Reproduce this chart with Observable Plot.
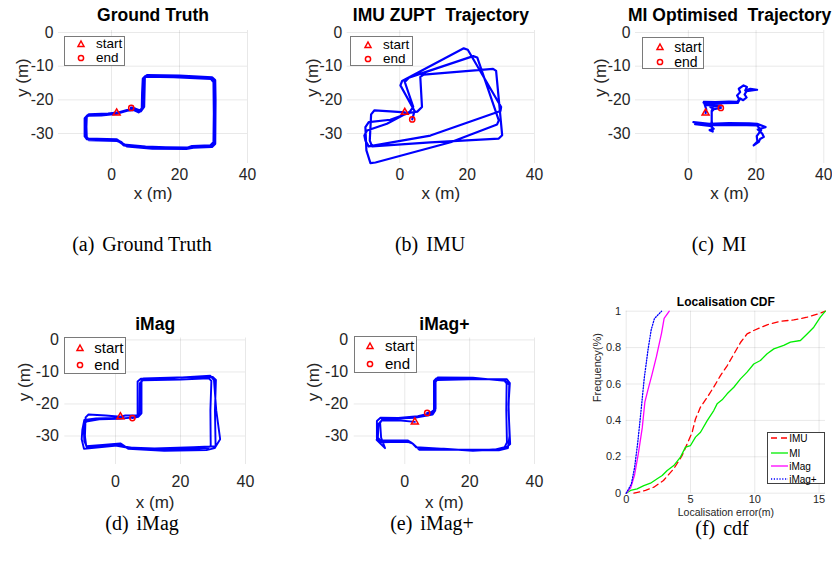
<!DOCTYPE html>
<html><head><meta charset="utf-8">
<script src="https://cdn.jsdelivr.net/npm/d3@7"></script>
<script src="https://cdn.jsdelivr.net/npm/@observablehq/plot@0.6"></script>
<style>
body{margin:0;background:#fff;}
#root{position:relative;width:832px;height:565px;overflow:hidden;font-family:"Liberation Sans",Arial,Helvetica,sans-serif;color:#262626;}
.panel{position:absolute;}
.panel svg{overflow:visible;}
.panel svg text{white-space:pre;}
.cap{position:absolute;font-family:"Liberation Serif","Times New Roman",serif;font-size:20px;color:#000;white-space:pre;transform:translate(-50%,-50%);line-height:1;}
.cap span{margin-right:8px;}
.leg{position:absolute;background:#fff;box-sizing:border-box;}
.leg .t{position:absolute;transform:translateY(-50%);color:#000;white-space:pre;line-height:0.9;}
.leg svg{position:absolute;overflow:visible;}
</style></head>
<body><div id="root"></div>
<script>
// ---------- data ----------
const xTicks = [0, 20, 40];
const yTicks = [0, -10, -20, -30];

const gtPath = [[1.5,-23.9],[-1,-24.2],[-6.7,-24.4],[-7.4,-25.1],[-7.5,-28],[-7.4,-31.1],[-6.7,-31.9],[1.7,-32.1],[2.8,-32.6],[3.6,-33.4],[10,-34],[16,-34.2],[22.3,-34.3],[23.7,-33.8],[29.1,-33.6],[30.1,-32.6],[30.2,-24],[30.1,-14.7],[29.3,-13.7],[18.3,-13.2],[10,-13],[9.3,-13.7],[9.1,-18],[9.0,-22.6],[8.0,-23.6],[6.6,-22.9],[4.6,-23.1],[2.5,-23.7],
 [1.2,-24.1],[-3,-24.5],[-7,-24.6],[-7.8,-25.5],[-7.8,-30.8],[-7.2,-31.6],[1.5,-31.8],[3.2,-33],[4.5,-33.7],[12,-34.4],[22,-34.5],[24,-34.1],[29.5,-33.9],[30.4,-33],[30.5,-20],[30.4,-14.2],[29.6,-13.4],[20,-12.9],[10.5,-12.7],[9.7,-13.4],[9.5,-22],[8.6,-23.3],[7,-22.7],[5.8,-22.4]];
const gtStart = [1.5,-23.9], gtEnd = [5.8,-22.4];

const imuPath = [[1.5,-23.7],[-2.8,-23.4],[-7.5,-23.1],[-8.5,-24.3],[-8.9,-32.1],[-8.2,-33.8],[9.1,-32.6],[29.4,-31.5],[30.4,-30.5],[28.6,-11.4],[27.7,-10.8],[7.1,-12.5],[6.1,-13.2],[6.6,-22.1],[5.2,-23.5],[2.7,-23.9],
 [-2.8,-25.9],[-9.2,-26.6],[-10.2,-28.1],[-9.9,-35.0],[-8.7,-38.8],[-7.2,-38.6],[15.1,-32.6],[28.9,-27.3],[29.4,-26.1],[23.0,-7.4],[21.8,-7.0],[2.7,-13.4],[1.5,-14.7],[4.0,-22.1],[3.0,-23.5],
 [-3.8,-27.1],[-9.7,-29.1],[-10.5,-30.6],[-10.2,-32.1],[-9.2,-33.8],[9.1,-30.6],[29.9,-23.3],[30.1,-22.1],[20.2,-5.1],[19.0,-4.7],[0.7,-14.4],[0.2,-15.7],[4.4,-23.3],[3.7,-25.8]];
const imuStart = [1.5,-23.7], imuEnd = [3.7,-25.8];

const miPath = [[5.1,-23.9],[5.3,-22.8],[4.8,-21.3],[4.6,-20.6],[8,-20.7],[12,-20.5],[14.5,-20.6],[15,-19.8],[14.4,-18.7],[15.3,-17.7],[14.9,-16.7],[16.3,-15.7],[17.3,-16.2],[16.8,-17.2],[18.3,-16.7],[20.3,-17],[17.2,-17.4],[16.6,-18.4],[17.2,-19.3],[16.2,-20.1],[15.3,-19.6],[14.6,-20.9],[10,-21],[5,-21.1],[4.5,-20.8],[5.5,-21.6],[9.8,-21.7],[6.5,-22.1],[7.2,-22.5],[6.9,-23.3],[6.9,-26],[6.8,-28],[7.5,-28.6],[6.3,-29],[7.2,-29.4],[6.9,-27.2],[1.5,-26.6],[6,-27.1],[12,-26.9],[18,-27],[20.3,-27.1],[22.8,-28.1],[20.5,-28.8],[21.8,-30],[22.3,-31],[21.2,-31.6],[20.8,-32.5],[19.3,-33.5],[20.4,-32.4],[20.2,-30.8],[21.5,-29],[20.3,-27.6],[14,-27.4],[6,-27.5],[2,-27.2],[7,-27.8],[6.9,-26],[6.9,-23.5],[7.5,-22.8],[9.6,-22.4]];
const miStart = [5.1,-23.9], miEnd = [9.6,-22.4];

const imagPath = [[1.5,-24],[-3,-23.6],[-8.3,-23.3],[-9.2,-24.2],[-9.4,-30],[-9,-33.2],[-4,-32.8],[1.5,-32.3],[3,-33.3],[7,-34],[20,-34.2],[28.5,-33.8],[29.3,-33],[29.2,-22],[29.5,-12.8],[28.7,-12],[20,-12.4],[8.4,-12.6],[7.5,-13.5],[7.4,-22.8],[6.5,-23.6],[3,-23.6],
 [0,-24.4],[-6,-24.5],[-9.6,-25],[-10.2,-28],[-10.4,-31],[-9.7,-34],[-5,-33.5],[2,-32.8],[4,-34],[15,-34.6],[28,-34.4],[30.5,-33.8],[32.2,-31],[31,-22],[30.3,-12.6],[29.2,-11.2],[18,-11.9],[7.8,-12.1],[6.8,-13],[6.8,-23.4],[5.8,-24.2],[1,-24.6],
 [-5,-24.8],[-9,-25.5],[-9.8,-27],[-9.6,-31.5],[-8.8,-33.6],[0,-33],[3.5,-33.6],[12,-33.9],[24,-33.5],[30.8,-33.2],[30.6,-22],[30.9,-12.5],[30,-11.6],[19,-11.7],[8.6,-12],[8,-12.8],[8,-22.9],[7,-24],[5.2,-24.4]];
const imagStart = [1.5,-24], imagEnd = [5.2,-24.4];

const imagPlusPath = [[3.1,-25.6],[-2,-25.1],[-7.2,-25.2],[-8.1,-26.2],[-8.3,-30.5],[-7.6,-31.3],[1,-31.4],[2.2,-32.2],[4,-33.8],[12,-34],[21,-34.6],[28,-34.2],[30.8,-33.5],[31.5,-32],[31.3,-22],[31.4,-13.6],[30.5,-12.5],[20,-12],[9.7,-12],[9,-12.8],[9,-21.8],[8.4,-22.8],[4,-23.8],[-2,-24.4],
 [-7.5,-24.3],[-8.6,-25.3],[-8.6,-30.8],[-7.6,-32],[-1,-31.8],[2,-32],[3.5,-33.5],[15,-34.2],[29,-34.5],[31.8,-33.8],[32.3,-30],[32,-20],[32.4,-13.5],[31.5,-12.3],[20,-12.3],[10,-12.5],[9.3,-13.3],[9.4,-22],[8.6,-23.3],[3,-24.3],[-4,-24.6],[-7,-24.8],
 [-7.6,-26],[-7.3,-30.5],[-6.1,-33.8],[-8.7,-31.2],[-7.8,-31.6],[0,-31.6],[2.5,-32.4],[4.5,-34.3],[14,-34.3],[26,-34.3],[30.8,-34],[32.5,-32.5],[32,-22],[32.2,-14],[31,-12.8],[21,-11.8],[10.2,-11.7],[9.5,-12.5],[9.5,-21.5],[8.2,-22.5],[6.9,-22.8]];
const imagPlusStart = [3.1,-25.6], imagPlusEnd = [6.9,-22.8];

// CDF data
const cdfXTicks = [0, 5, 10, 15];
const cdfYTicks = [0, 0.2, 0.4, 0.6, 0.8, 1];
const imuErr = [0.6,1.5,2.15,2.9,3.7,4.35,4.74,5.13,5.39,5.78,6.3,6.8,7.33,7.85,8.37,8.89,9.4,9.92,10.96,11.99,13.03,14.07,15.1,15.49];
const imuCdf = [0,0.015,0.033,0.07,0.134,0.207,0.271,0.335,0.408,0.473,0.527,0.582,0.646,0.7,0.764,0.828,0.875,0.894,0.925,0.945,0.952,0.967,0.989,1.0];
const miErr = [0,0.34,0.85,1.37,1.89,2.41,2.8,3.19,3.7,4.22,4.61,5.0,5.39,5.78,6.3,6.81,7.07,7.46,7.85,8.37,8.89,9.4,9.92,10.44,10.96,11.48,12.25,12.77,13.55,14.07,14.59,15.1,15.49];
const miCdf = [0,0.015,0.024,0.042,0.055,0.079,0.097,0.125,0.152,0.198,0.253,0.262,0.308,0.335,0.399,0.454,0.491,0.513,0.546,0.582,0.628,0.665,0.71,0.729,0.766,0.793,0.812,0.83,0.839,0.875,0.912,0.967,1.0];
const imagErr = [0,0.35,0.65,0.95,1.25,1.45,1.7,2.0,2.35,2.75,2.95,3.35];
const imagCdf = [0,0.03,0.1,0.22,0.36,0.5,0.57,0.65,0.75,0.88,0.96,1.0];
const imagPlusErr = [0,0.4,0.65,0.9,1.15,1.4,1.7,1.95,2.2,2.75];
const imagPlusCdf = [0,0.05,0.14,0.28,0.45,0.63,0.79,0.9,0.96,1.0];

const titles = ["Ground Truth", "IMU ZUPT  Trajectory", "MI Optimised  Trajectory", "iMag", "iMag+", "Localisation CDF"];
const captions = [["(a)","Ground Truth"],["(b)","IMU"],["(c)","MI"],["(d)","iMag"],["(e)","iMag+"],["(f)","cdf"]];
const cdfSeries = ["IMU", "MI", "iMag", "iMag+"];

// ---------- layout ----------
const root = document.getElementById("root");
const FONT = '"Liberation Sans", Arial, Helvetica, sans-serif';
const fmt = d => String(d);

function place(node, left, top) {
  const div = document.createElement("div");
  div.className = "panel";
  div.style.left = left + "px"; div.style.top = top + "px";
  div.appendChild(node); root.appendChild(div);
}

function trajPanel(o) {
  const {svg, box} = o;
  const chart = Plot.plot({
    width: svg.w, height: svg.h,
    marginLeft: box.l - svg.l, marginTop: box.t - svg.t,
    marginRight: svg.l + svg.w - box.r, marginBottom: svg.t + svg.h - box.b,
    x: {domain: [-15.6, 40]},
    y: {domain: [-38.9, 0.6]},
    style: {fontFamily: FONT, fontSize: o.tickFs + "px", color: "#262626", background: "transparent"},
    marks: [
      Plot.gridX(xTicks, {stroke: "#000", strokeOpacity: 0.09}),
      Plot.gridY(yTicks, {stroke: "#000", strokeOpacity: 0.09}),
      Plot.line(o.path, {x: d => d[0], y: d => d[1], stroke: "#0000ff", strokeWidth: o.sw, strokeLinejoin: "round"}),
      Plot.dot([o.start], {x: d => d[0], y: d => d[1], symbol: "triangle", stroke: "#ff0000", r: 2.6, strokeWidth: 1.5}),
      Plot.dot([o.end], {x: d => d[0], y: d => d[1], symbol: "circle", stroke: "#ff0000", r: 2.6, strokeWidth: 1.5}),
      Plot.axisX(xTicks, {tickSize: 0, tickPadding: o.padX, tickFormat: fmt, label: null, line: true, stroke: "#262626", fill: "#262626"}),
      Plot.axisY(yTicks, {tickSize: 0, tickPadding: o.padY, tickFormat: fmt, label: null, line: true, stroke: "#262626", fill: "#262626"}),
      Plot.text(["x (m)"], {text: d => d, frameAnchor: "bottom", lineAnchor: "middle", dy: o.xlDy, fontSize: 17, fill: "#262626"}),
      Plot.text(["y (m)"], {text: d => d, frameAnchor: "left", lineAnchor: "middle", dx: -o.ylDx, rotate: -90, fontSize: 17, fill: "#262626"}),
      Plot.text([o.title], {text: d => d, frameAnchor: "top", lineAnchor: "middle", dy: o.tDy, fontSize: 17.5, fontWeight: "bold", fill: "#000"})
    ]
  });
  place(chart, svg.l, svg.t);
}

function trajLegend(L) {
  const d = document.createElement("div");
  d.className = "leg";
  Object.assign(d.style, {left: L.l + "px", top: L.t + "px", width: L.w + "px", height: L.h + "px", border: "1px solid #7a7a7a"});
  const ns = "http://www.w3.org/2000/svg";
  const mk = (y, kind, label) => {
    const s = document.createElementNS(ns, "svg");
    s.setAttribute("width", 8); s.setAttribute("height", 8);
    s.style.left = (L.ix - 4) + "px"; s.style.top = (y - 4) + "px";
    const sh = kind === "tri" ? document.createElementNS(ns, "polygon") : document.createElementNS(ns, "circle");
    if (kind === "tri") sh.setAttribute("points", "4,1 7,6.5 1,6.5");
    else { sh.setAttribute("cx", 4); sh.setAttribute("cy", 4); sh.setAttribute("r", 2.6); }
    sh.setAttribute("fill", "none"); sh.setAttribute("stroke", "#ff0000"); sh.setAttribute("stroke-width", 1.5);
    s.appendChild(sh); d.appendChild(s);
    const t = document.createElement("div");
    t.className = "t"; t.textContent = label;
    Object.assign(t.style, {left: L.tx + "px", top: y + "px", fontSize: L.fs + "px"});
    d.appendChild(t);
  };
  mk(L.y1, "tri", "start");
  mk(L.y2, "circ", "end");
  root.appendChild(d);
}

const row1 = {t: 30, b: 163}, row2 = {t: 337.5, b: 464};
const P = [
  {path: gtPath, start: gtStart, end: gtEnd, title: titles[0], sw: 2.8, svg: {l: 0, t: 0, w: 277, h: 215}, box: {l: 58, r: 247, ...row1}, tickFs: 15.7, padX: 5, padY: 5, xlDy: 30, ylDx: 36, tDy: -15,
   leg: {l: 64, t: 36, w: 61, h: 30, ix: 16, tx: 31, y1: 7.3, y2: 21.3, fs: 13.5}},
  {path: imuPath, start: imuStart, end: imuEnd, title: titles[1], sw: 2.2, svg: {l: 280, t: 0, w: 277, h: 215}, box: {l: 346.7, r: 534, ...row1}, tickFs: 15.7, padX: 5, padY: 5, xlDy: 30, ylDx: 35, tDy: -15,
   leg: {l: 350, t: 36, w: 63.3, h: 30, ix: 17, tx: 32, y1: 7.5, y2: 21.7, fs: 13.5}},
  {path: miPath, start: miStart, end: miEnd, title: titles[2], sw: 2.2, svg: {l: 560, t: 0, w: 272, h: 215}, box: {l: 635, r: 823.3, ...row1}, tickFs: 15.7, padX: 5, padY: 5, xlDy: 30, ylDx: 35, tDy: -15,
   leg: {l: 642.3, t: 36.7, w: 61.7, h: 32.6, ix: 16.7, tx: 31, y1: 9, y2: 24, fs: 14}},
  {path: imagPath, start: imagStart, end: imagEnd, title: titles[3], sw: 1.9, svg: {l: 0, t: 300, w: 277, h: 215}, box: {l: 64.3, r: 245, ...row2}, tickFs: 16, padX: 11, padY: 6, xlDy: 38, ylDx: 40, tDy: -14,
   leg: {l: 64.3, t: 336.7, w: 61.4, h: 37.3, ix: 14.7, tx: 29, y1: 10, y2: 27.3, fs: 15}},
  {path: imagPlusPath, start: imagPlusStart, end: imagPlusEnd, title: titles[4], sw: 1.9, svg: {l: 280, t: 300, w: 277, h: 215}, box: {l: 353.7, r: 534, ...row2}, tickFs: 16, padX: 11, padY: 6, xlDy: 38, ylDx: 41, tDy: -14,
   leg: {l: 354, t: 336, w: 62.7, h: 37.3, ix: 15.3, tx: 30, y1: 9, y2: 26.7, fs: 15}}
];
P.forEach(o => { trajPanel(o); trajLegend(o.leg); });

// ---------- CDF panel ----------
const cdfData = [
  ...imuErr.map((e, i) => ({s: "IMU", e, c: imuCdf[i]})),
  ...miErr.map((e, i) => ({s: "MI", e, c: miCdf[i]})),
  ...imagErr.map((e, i) => ({s: "iMag", e, c: imagCdf[i]})),
  ...imagPlusErr.map((e, i) => ({s: "iMag+", e, c: imagPlusCdf[i]}))
];
const sty = {
  "IMU": {stroke: "#ff0000", dash: "6,4", w: 1.3},
  "MI": {stroke: "#00ee00", dash: null, w: 1.3},
  "iMag": {stroke: "#ff00ff", dash: null, w: 1.3},
  "iMag+": {stroke: "#0000ff", dash: "1.2,1.6", w: 1.3}
};
{
  const svg = {l: 560, t: 290, w: 272, h: 230}, box = {l: 625.7, r: 825, t: 310.7, b: 492.7};
  const chart = Plot.plot({
    width: svg.w, height: svg.h,
    marginLeft: box.l - svg.l, marginTop: box.t - svg.t,
    marginRight: svg.l + svg.w - box.r, marginBottom: svg.t + svg.h - box.b,
    x: {domain: [0, 15.5]},
    y: {domain: [0, 1]},
    style: {fontFamily: FONT, fontSize: "11px", color: "#262626", background: "transparent"},
    marks: [
      Plot.gridX(cdfXTicks, {stroke: "#000", strokeOpacity: 0.09}),
      Plot.gridY(cdfYTicks, {stroke: "#000", strokeOpacity: 0.09}),
      ...cdfSeries.map(s => Plot.line(cdfData.filter(d => d.s === s), {x: "e", y: "c", stroke: sty[s].stroke, strokeWidth: sty[s].w, strokeDasharray: sty[s].dash})),
      Plot.axisX(cdfXTicks, {tickSize: 0, tickPadding: 2, tickFormat: fmt, label: null, line: true, stroke: "#262626", fill: "#262626"}),
      Plot.axisY(cdfYTicks, {tickSize: 0, tickPadding: 5, tickFormat: fmt, label: null, line: true, stroke: "#262626", fill: "#262626"}),
      Plot.text(["Localisation error(m)"], {text: d => d, frameAnchor: "bottom", lineAnchor: "middle", dy: 19.5, fontSize: 10.5, fill: "#262626"}),
      Plot.text(["Frequency(%)"], {text: d => d, frameAnchor: "left", lineAnchor: "middle", dx: -29, rotate: -90, fontSize: 11, fill: "#262626"}),
      Plot.text([titles[5]], {text: d => d, frameAnchor: "top", lineAnchor: "middle", dy: -9, fontSize: 12, fontWeight: "bold", fill: "#000"})
    ]
  });
  place(chart, svg.l, svg.t);

  // legend
  const d = document.createElement("div");
  d.className = "leg";
  Object.assign(d.style, {left: "766.7px", top: "431.7px", width: "58.3px", height: "52.3px", border: "1px solid #404040"});
  const ns = "http://www.w3.org/2000/svg";
  const rows = [5, 20, 33.3, 46.6];
  cdfSeries.forEach((s, i) => {
    const sv = document.createElementNS(ns, "svg");
    sv.setAttribute("width", 18); sv.setAttribute("height", 4);
    sv.style.left = "3px"; sv.style.top = (rows[i] - 2) + "px";
    const ln = document.createElementNS(ns, "line");
    ln.setAttribute("x1", 0); ln.setAttribute("x2", 17); ln.setAttribute("y1", 2); ln.setAttribute("y2", 2);
    ln.setAttribute("stroke", sty[s].stroke); ln.setAttribute("stroke-width", sty[s].w);
    if (sty[s].dash) ln.setAttribute("stroke-dasharray", sty[s].dash);
    sv.appendChild(ln); d.appendChild(sv);
    const t = document.createElement("div");
    t.className = "t"; t.textContent = s;
    Object.assign(t.style, {left: "21.5px", top: rows[i] + "px", fontSize: "10px"});
    d.appendChild(t);
  });
  root.appendChild(d);
}

// ---------- captions ----------
const capPos = [[142, 244], [430, 244], [719, 244], [142, 523], [432, 523], [722, 528]];
captions.forEach((c, i) => {
  const el = document.createElement("div");
  el.className = "cap";
  const sp = document.createElement("span"); sp.textContent = c[0];
  el.appendChild(sp); el.appendChild(document.createTextNode(c[1]));
  el.style.left = capPos[i][0] + "px"; el.style.top = capPos[i][1] + "px";
  root.appendChild(el);
});
</script>
</body></html>
